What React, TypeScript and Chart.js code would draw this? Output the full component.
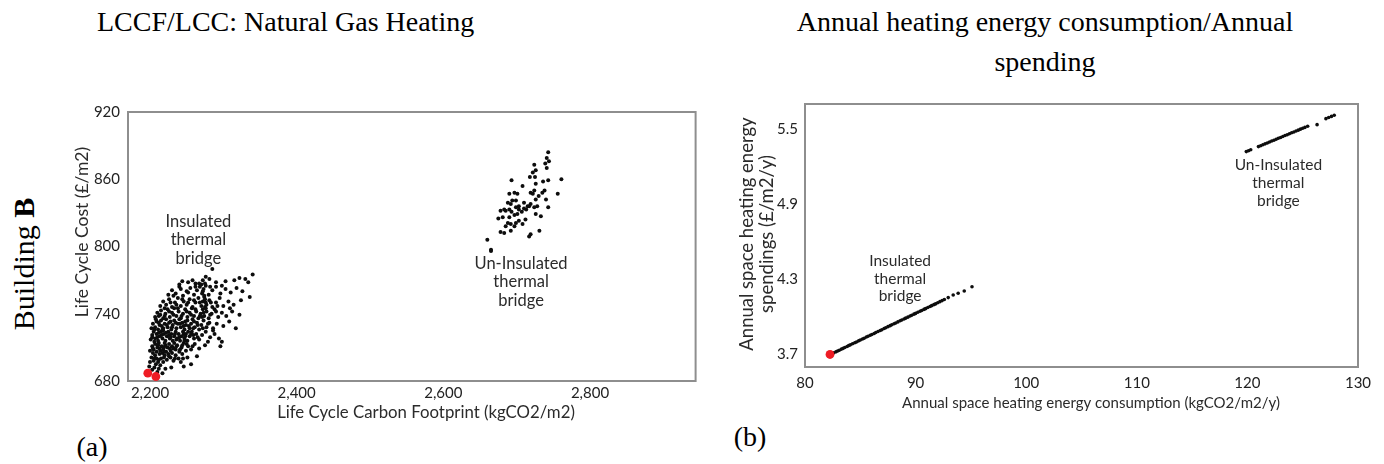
import React, { useEffect, useRef } from "react";
import { Chart, registerables } from "chart.js";

Chart.register(...registerables);

// ---------- DATA ----------
// Panel (a): Life Cycle Carbon Footprint (kgCO2/m2) vs Life Cycle Cost (£/m2)
const lccOptimal: [number, number][] = [
  [2197, 687], [2208, 684],
];

const lccInsulated: [number, number][] = [
  [2203, 690], [2199, 693], [2206, 692], [2210, 688], [2214, 694], [2217, 687], [2221, 691], [2229, 692], [2242, 697], [2256, 695], [2246, 693], [2208, 695], [2212, 691],
  [2200, 697], [2202, 701], [2205, 698], [2207, 703], [2209, 700], [2211, 697], [2213, 704], [2215, 700], [2218, 697], [2220, 703], [2223, 699], [2225, 704], [2228, 701], [2232, 698], [2235, 703], [2239, 700], [2244, 704], [2251, 701], [2264, 702], [2204, 705], [2217, 705], [2230, 705],
  [2200, 707], [2203, 711], [2205, 708], [2207, 713], [2209, 706], [2210, 710], [2212, 714], [2214, 707], [2216, 711], [2218, 708], [2220, 714], [2222, 706], [2224, 710], [2226, 713], [2228, 707], [2230, 711], [2233, 714], [2235, 708], [2237, 712], [2240, 706], [2243, 710], [2246, 714], [2249, 707], [2252, 711], [2256, 708], [2261, 713], [2267, 709], [2275, 712], [2296, 711], [2298, 715], [2213, 709], [2221, 712], [2232, 709], [2244, 712], [2206, 715],
  [2201, 717], [2203, 721], [2205, 724], [2207, 718], [2209, 722], [2211, 716], [2213, 720], [2215, 724], [2217, 718], [2219, 722], [2221, 716], [2223, 720], [2225, 724], [2227, 718], [2229, 722], [2231, 716], [2233, 720], [2235, 724], [2237, 718], [2239, 722], [2241, 716], [2243, 720], [2245, 724], [2247, 718], [2249, 722], [2251, 716], [2254, 720], [2257, 724], [2260, 718], [2263, 722], [2267, 717], [2271, 721], [2276, 724], [2282, 719], [2288, 722], [2294, 718], [2218, 725], [2226, 721], [2236, 717], [2246, 722], [2256, 722], [2212, 723],
  [2202, 727], [2204, 731], [2207, 728], [2209, 733], [2211, 726], [2213, 730], [2215, 734], [2218, 727], [2220, 731], [2222, 735], [2224, 728], [2226, 732], [2229, 726], [2231, 730], [2233, 734], [2236, 727], [2238, 731], [2240, 735], [2242, 728], [2244, 732], [2247, 726], [2249, 730], [2251, 734], [2254, 727], [2256, 731], [2258, 735], [2261, 728], [2264, 732], [2267, 726], [2270, 730], [2273, 734], [2277, 728], [2281, 732], [2286, 727], [2291, 731], [2300, 729], [2308, 733], [2317, 727], [2228, 733], [2246, 729], [2260, 733], [2216, 729],
  [2207, 737], [2210, 741], [2212, 738], [2215, 743], [2218, 736], [2221, 740], [2224, 744], [2227, 737], [2230, 741], [2233, 745], [2236, 738], [2239, 742], [2242, 736], [2245, 740], [2248, 744], [2251, 737], [2254, 741], [2257, 745], [2260, 738], [2263, 742], [2266, 736], [2269, 740], [2272, 744], [2274, 738], [2277, 742], [2280, 736], [2284, 740], [2288, 744], [2293, 737], [2298, 741], [2304, 738], [2312, 742], [2322, 739], [2275, 746], [2271, 737],
  [2214, 747], [2218, 751], [2222, 748], [2226, 753], [2230, 746], [2234, 750], [2238, 754], [2242, 747], [2246, 751], [2250, 748], [2254, 753], [2258, 746], [2262, 750], [2266, 754], [2270, 747], [2272, 751], [2274, 755], [2277, 748], [2281, 752], [2285, 746], [2290, 750], [2295, 754], [2300, 747], [2307, 751], [2314, 748], [2324, 752], [2336, 755], [2276, 750],
  [2225, 757], [2230, 761], [2235, 758], [2240, 764], [2245, 756], [2250, 760], [2255, 763], [2260, 757], [2264, 761], [2268, 764], [2271, 758], [2273, 762], [2276, 765], [2280, 757], [2285, 761], [2290, 764], [2296, 758], [2303, 762], [2310, 759], [2318, 763], [2326, 760], [2274, 756],
  [2240, 766], [2252, 768], [2262, 767], [2267, 767], [2272, 770], [2276, 773], [2281, 771], [2285, 780], [2290, 768], [2303, 769], [2315, 770], [2322, 772], [2330, 771], [2340, 775], [2334, 768],
  [2206, 700], [2212, 699], [2219, 701], [2226, 702], [2234, 700], [2204, 709], [2211, 712], [2219, 710], [2227, 709], [2236, 711], [2241, 708], [2250, 713], [2258, 711],
  [2203, 719], [2210, 719], [2216, 721], [2222, 723], [2228, 719], [2234, 722], [2240, 719], [2248, 720], [2252, 724], [2259, 721], [2265, 719], [2206, 726], [2212, 732],
  [2217, 726], [2223, 730], [2230, 728], [2235, 732], [2241, 731], [2248, 733], [2253, 729], [2259, 727], [2265, 730], [2272, 727], [2279, 731], [2208, 735], [2214, 739],
  [2220, 738], [2226, 742], [2232, 739], [2238, 745], [2243, 738], [2250, 742], [2256, 739], [2262, 744], [2268, 738], [2273, 741], [2276, 745], [2282, 739], [2290, 742],
  [2220, 745], [2228, 750], [2236, 748], [2244, 753], [2252, 750], [2260, 752], [2268, 750], [2275, 753], [2283, 750], [2292, 747], [2232, 756], [2242, 762], [2252, 759],
  [2262, 764], [2272, 760], [2275, 767], [2282, 764], [2298, 765], [2244, 769], [2258, 770], [2270, 766], [2220, 706], [2247, 716], [2279, 715], [2286, 725], [2309, 745], [2245, 700],
];

const lccUninsulated: [number, number][] = [
  [2743, 884], [2741, 879], [2739, 874], [2744, 876], [2741, 870], [2724, 873], [2722, 866], [2726, 868], [2718, 862], [2725, 862],
  [2693, 859], [2761, 860], [2743, 859], [2736, 858], [2708, 854], [2726, 856], [2724, 850], [2719, 848], [2722, 847], [2756, 847],
  [2690, 847], [2697, 848], [2701, 847], [2738, 850], [2735, 848], [2730, 845], [2694, 841], [2699, 841], [2688, 839], [2692, 838],
  [2726, 842], [2740, 842], [2719, 838], [2717, 836], [2710, 834], [2678, 832], [2683, 833], [2690, 833], [2699, 835], [2703, 833],
  [2707, 831], [2701, 829], [2697, 828], [2690, 826], [2675, 825], [2681, 826], [2712, 824], [2703, 823], [2699, 821], [2692, 820],
  [2688, 821], [2743, 835], [2733, 827], [2685, 818], [2697, 818], [2708, 820], [2678, 813], [2683, 812], [2692, 814], [2719, 811],
  [2717, 809], [2731, 814], [2660, 806], [2665, 797], [2713, 833], [2715, 836], [2710, 839], [2703, 836], [2728, 836], [2724, 835],
  [2685, 832], [2693, 831], [2726, 829], [2665, 796],
];

const lccXTicks = [2200, 2400, 2600, 2800];
const lccYTicks = [680, 740, 800, 860, 920];

// Panel (b): Annual space heating energy consumption vs annual spending
const annualOptimal: [number, number][] = [[82.26, 3.7]];

const annualInsulated: [number, number][] = [
  [82.3, 3.700], [82.45, 3.706], [82.6, 3.713], [82.8, 3.721], [82.95, 3.728], [83.1, 3.734], [83.3, 3.743], [83.45, 3.749], [83.6, 3.756], [83.8, 3.764],
  [83.95, 3.771], [84.1, 3.777], [84.3, 3.786], [84.5, 3.794], [84.65, 3.800], [84.85, 3.809], [85.0, 3.815], [85.2, 3.824], [85.35, 3.830], [85.55, 3.839],
  [85.7, 3.845], [85.9, 3.853], [86.05, 3.860], [86.25, 3.868], [86.4, 3.875], [86.6, 3.883], [86.8, 3.892], [86.95, 3.898], [87.15, 3.907], [87.3, 3.913],
  [87.5, 3.922], [87.7, 3.930], [87.85, 3.937], [88.05, 3.945], [88.2, 3.951], [88.4, 3.960], [88.6, 3.969], [88.75, 3.975], [88.95, 3.983], [89.1, 3.990],
  [89.3, 3.998], [89.5, 4.007], [89.65, 4.013], [89.85, 4.022], [90.0, 4.028], [90.2, 4.037], [90.4, 4.045], [90.55, 4.051], [90.75, 4.060], [90.9, 4.066],
  [91.1, 4.075], [91.3, 4.083], [91.45, 4.090], [91.65, 4.098], [91.8, 4.104], [92.0, 4.113], [92.2, 4.122], [92.4, 4.130], [92.6, 4.139], [92.95, 4.154],
  [93.4, 4.175], [93.85, 4.189], [94.4, 4.207], [95.1, 4.241],
];

const annualUninsulated: [number, number][] = [
  [119.9, 5.320], [120.1, 5.327], [120.3, 5.335], [121.0, 5.360], [121.2, 5.367], [121.4, 5.375], [121.6, 5.382], [121.8, 5.389], [122.0, 5.397], [122.2, 5.404],
  [122.4, 5.411], [122.6, 5.419], [122.8, 5.426], [123.0, 5.433], [123.2, 5.440], [123.4, 5.448], [123.6, 5.455], [123.8, 5.462], [124.0, 5.470], [124.2, 5.477],
  [124.4, 5.484], [124.6, 5.491], [124.8, 5.499], [125.0, 5.506], [125.2, 5.513], [125.45, 5.522], [126.3, 5.535], [127.1, 5.583], [127.35, 5.592], [127.6, 5.601],
  [127.85, 5.610],
];

const annualXTicks = [80, 90, 100, 110, 120, 130];
const annualYTicks = [3.7, 4.3, 4.9, 5.5];

// ---------- helpers ----------
const SANS = 'Lato, "Open Sans", "Noto Sans", sans-serif';
const TICK_COLOR = "#222222";
const TEXT_COLOR = "#2b2b2b";

type TextItem = {
  lines: string[];
  x: number;
  y: number;
  data?: boolean;
  rotate?: boolean;
  size: number;
  lh: number;
};

function makeTextPlugin(items: TextItem[]) {
  return {
    id: "texts",
    afterDraw(chart: any) {
      const ctx = chart.ctx;
      for (const it of items) {
        let x = it.x;
        let y = it.y;
        if (it.data) {
          x = chart.scales.x.getPixelForValue(it.x);
          y = chart.scales.y.getPixelForValue(it.y);
        }
        ctx.save();
        ctx.translate(x, y);
        if (it.rotate) ctx.rotate(-Math.PI / 2);
        ctx.font = `${it.size}px ${SANS}`;
        ctx.fillStyle = TEXT_COLOR;
        ctx.textAlign = "center";
        ctx.textBaseline = "middle";
        const n = it.lines.length;
        it.lines.forEach((line, i) => ctx.fillText(line, 0, (i - (n - 1) / 2) * it.lh));
        ctx.restore();
      }
    },
  };
}

const framePlugin = {
  id: "frame",
  beforeDatasetsDraw(chart: any) {
    const { ctx, chartArea } = chart;
    ctx.save();
    ctx.strokeStyle = "#8e8e8e";
    ctx.lineWidth = 2;
    ctx.strokeRect(chartArea.left, chartArea.top, chartArea.right - chartArea.left, chartArea.bottom - chartArea.top);
    ctx.restore();
  },
};

function toPoints(arr: [number, number][]) {
  return arr.map(([x, y]) => ({ x, y }));
}

function makeConfig(opts: {
  optimal: [number, number][];
  insulated: [number, number][];
  uninsulated: [number, number][];
  xMin: number; xMax: number; xTicks: number[];
  yMin: number; yMax: number; yTicks: number[];
  xFormat: (v: number) => string;
  yFormat: (v: number) => string;
  padding: { left: number; right: number; top: number; bottom: number };
  yWidth: number; xHeight: number;
  xPad: number; yPad: number;
  blackRadius: number; redRadius: number;
  texts: TextItem[];
}): any {
  return {
    type: "scatter",
    data: {
      datasets: [
        { label: "Optimal", data: toPoints(opts.optimal), pointRadius: opts.redRadius, pointBackgroundColor: "#ee1c24", pointBorderWidth: 0 },
        { label: "Insulated thermal bridge", data: toPoints(opts.insulated), pointRadius: opts.blackRadius, pointBackgroundColor: "#0d0d0d", pointBorderWidth: 0 },
        { label: "Un-Insulated thermal bridge", data: toPoints(opts.uninsulated), pointRadius: opts.blackRadius, pointBackgroundColor: "#0d0d0d", pointBorderWidth: 0 },
      ],
    },
    options: {
      responsive: false,
      maintainAspectRatio: false,
      animation: false,
      devicePixelRatio: 1,
      layout: { padding: opts.padding },
      plugins: { legend: { display: false }, tooltip: { enabled: false }, title: { display: false } },
      scales: {
        x: {
          type: "linear",
          min: opts.xMin,
          max: opts.xMax,
          grid: { display: false, drawTicks: false },
          border: { display: false },
          afterBuildTicks: (axis: any) => { axis.ticks = opts.xTicks.map((v) => ({ value: v })); },
          afterFit: (axis: any) => { axis.height = opts.xHeight; },
          ticks: {
            padding: opts.xPad,
            color: TICK_COLOR,
            font: { family: SANS, size: 15 },
            maxRotation: 0,
            autoSkip: false,
            callback: (v: any) => opts.xFormat(Number(v)),
          },
        },
        y: {
          type: "linear",
          min: opts.yMin,
          max: opts.yMax,
          grid: { display: false, drawTicks: false },
          border: { display: false },
          afterBuildTicks: (axis: any) => { axis.ticks = opts.yTicks.map((v) => ({ value: v })); },
          afterFit: (axis: any) => { axis.width = opts.yWidth; },
          ticks: {
            padding: opts.yPad,
            color: TICK_COLOR,
            font: { family: SANS, size: 15 },
            autoSkip: false,
            callback: (v: any) => opts.yFormat(Number(v)),
          },
        },
      },
    },
    plugins: [framePlugin, makeTextPlugin(opts.texts)],
  };
}

function ChartCanvas({ config, left, width, height }: { config: () => any; left: number; width: number; height: number }) {
  const ref = useRef<HTMLCanvasElement>(null);
  useEffect(() => {
    const chart = new Chart(ref.current as HTMLCanvasElement, config());
    return () => chart.destroy();
  }, []);
  return (
    <canvas
      ref={ref}
      width={width}
      height={height}
      style={{ position: "absolute", left, top: 0, width, height }}
    />
  );
}

const lccConfig = () =>
  makeConfig({
    optimal: lccOptimal,
    insulated: lccInsulated,
    uninsulated: lccUninsulated,
    xMin: 2170, xMax: 2944, xTicks: lccXTicks,
    yMin: 680, yMax: 920, yTicks: lccYTicks,
    xFormat: (v) => v.toLocaleString("en-US"),
    yFormat: (v) => String(v),
    padding: { left: 0, right: 4, top: 112, bottom: 0 },
    yWidth: 128, xHeight: 83,
    xPad: 3, yPad: 8,
    blackRadius: 2, redRadius: 4.4,
    texts: [
      { lines: ["Life Cycle Carbon Footprint (kgCO2/m2)"], x: 426, y: 413, size: 16.8, lh: 19 },
      { lines: ["Life Cycle Cost (£/m2)"], x: 82, y: 232, rotate: true, size: 17.5, lh: 19 },
      { lines: ["Insulated", "thermal", "bridge"], x: 2266, y: 806, data: true, size: 16.5, lh: 18.5 },
      { lines: ["Un-Insulated", "thermal", "bridge"], x: 2706, y: 768.6, data: true, size: 16.5, lh: 18.5 },
    ],
  });

const annualConfig = () =>
  makeConfig({
    optimal: annualOptimal,
    insulated: annualInsulated,
    uninsulated: annualUninsulated,
    xMin: 80, xMax: 130, xTicks: annualXTicks,
    yMin: 3.6, yMax: 5.7, yTicks: annualYTicks,
    xFormat: (v) => String(v),
    yFormat: (v) => v.toFixed(1),
    padding: { left: 0, right: 26, top: 104, bottom: 0 },
    yWidth: 105, xHeight: 97,
    xPad: 7, yPad: 7,
    blackRadius: 1.8, redRadius: 4.4,
    texts: [
      { lines: ["Annual space heating energy consumption (kgCO2/m2/y)"], x: 391, y: 403, size: 15, lh: 18 },
      { lines: ["Annual space heating energy", "spendings (£/m2/y)"], x: 57, y: 234, rotate: true, size: 18.5, lh: 20 },
      { lines: ["Insulated", "thermal", "bridge"], x: 88.6, y: 4.303, data: true, size: 15.5, lh: 17.5 },
      { lines: ["Un-Insulated", "thermal", "bridge"], x: 122.8, y: 5.07, data: true, size: 15.5, lh: 18 },
    ],
  });

const serif = '"Liberation Serif", "DejaVu Serif", serif';

export default function App() {
  return (
    <div style={{ position: "absolute", left: 0, top: 0, width: 1384, height: 464, background: "#ffffff", overflow: "hidden", fontFamily: serif, color: "#000" }}>
      <div style={{ position: "absolute", left: 97, top: 2, fontSize: 28, lineHeight: "40px", whiteSpace: "nowrap" }}>
        LCCF/LCC: Natural Gas Heating
      </div>
      <div style={{ position: "absolute", left: 745, width: 600, top: 2, fontSize: 28, lineHeight: "40px", textAlign: "center" }}>
        Annual heating energy consumption/Annual
        <br />
        spending
      </div>
      <div
        style={{
          position: "absolute",
          left: 24,
          top: 264,
          fontSize: 30,
          whiteSpace: "nowrap",
          transform: "translate(-50%, -50%) rotate(-90deg)",
        }}
      >
        Building <b>B</b>
      </div>
      <div style={{ position: "absolute", left: 92, top: 447, fontSize: 28, transform: "translate(-50%, -50%)" }}>(a)</div>
      <div style={{ position: "absolute", left: 750, top: 437, fontSize: 28, transform: "translate(-50%, -50%)" }}>(b)</div>
      <ChartCanvas config={lccConfig} left={0} width={700} height={464} />
      <ChartCanvas config={annualConfig} left={700} width={684} height={464} />
    </div>
  );
}
